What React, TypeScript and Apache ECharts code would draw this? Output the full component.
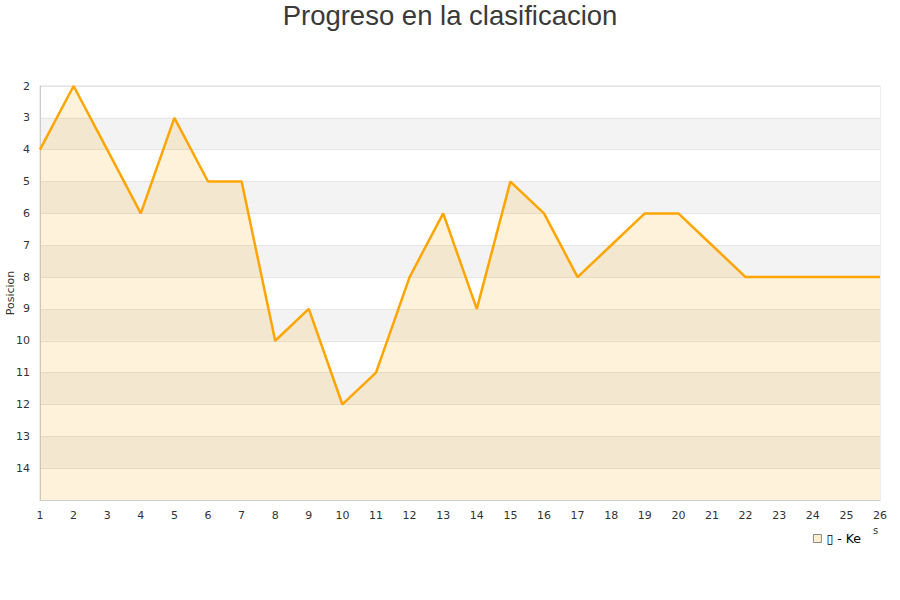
import { useEffect, useRef } from "react";
import * as echarts from "echarts";

const jornadas = ["1", "2", "3", "4", "5", "6", "7", "8", "9", "10", "11", "12", "13", "14", "15", "16", "17", "18", "19", "20", "21", "22", "23", "24", "25", "26"];
const posiciones = [4, 2, 4, 6, 3, 5, 5, 10, 9, 12, 11, 8, 6, 9, 5, 6, 8, 7, 6, 6, 7, 8, 8, 8, 8, 8];
const equipo = "\u25AF - Ke";

export default function App() {
  const chartRef = useRef<HTMLDivElement>(null);

  useEffect(() => {
    document.body.style.margin = "0";
    if (!chartRef.current) return;
    const chart = echarts.init(chartRef.current, undefined, { renderer: "svg" });

    const option: echarts.EChartsOption = {
      animation: false,
      title: {
        text: "Progreso en la clasificacion",
        left: "center",
        top: -4,
        textStyle: {
          fontFamily: "Liberation Sans",
          fontSize: 27.5,
          fontWeight: "normal",
          color: "#3a3a3a",
        },
      },
      legend: {
        right: 34,
        top: 527,
        itemWidth: 8,
        itemHeight: 8,
        itemGap: 6,
        icon: "rect",
        textStyle: { fontFamily: "DejaVu Sans", fontSize: 12.5, color: "#000" },
        data: [
          {
            name: equipo,
            itemStyle: { color: "#FFEDCC", borderColor: "#888", borderWidth: 1 },
          },
        ],
      },
      graphic: [
        {
          type: "text",
          left: 873,
          top: 525,
          style: { text: "s", fontFamily: "DejaVu Sans", fontSize: 10, fill: "#333" },
        },
      ],
      grid: {
        left: 40,
        right: 20,
        top: 86,
        bottom: 100,
        outerBoundsMode: "none",
        containLabel: false,
        show: true,
        borderColor: "#ddd",
        borderWidth: 1,
        backgroundColor: "transparent",
      } as any,
      xAxis: {
        type: "category",
        data: jornadas,
        boundaryGap: false,
        axisLine: { lineStyle: { color: "#ccc" } },
        axisTick: { show: false },
        axisLabel: { fontFamily: "DejaVu Sans", fontSize: 11, color: "#333", margin: 10 },
        splitLine: { show: false },
      },
      yAxis: {
        type: "value",
        inverse: true,
        min: 2,
        max: 15,
        interval: 1,
        name: "Posicion",
        nameLocation: "middle",
        nameGap: 24,
        nameMoveOverlap: false,
        nameTextStyle: { fontFamily: "DejaVu Sans", fontSize: 11, color: "#333" },
        axisLine: { show: true, lineStyle: { color: "#ccc" } },
        axisTick: { show: false },
        axisLabel: {
          fontFamily: "DejaVu Sans",
          fontSize: 11,
          color: "#333",
          margin: 10,
          formatter: (v: number) => (v === 15 ? "" : String(v)),
        },
        splitLine: { show: true, lineStyle: { color: "#e4e4e4" } },
        splitArea: { show: true, areaStyle: { color: ["#ffffff", "#f3f3f3"] } },
      } as any,
      series: [
        {
          name: equipo,
          type: "line",
          data: posiciones,
          showSymbol: false,
          symbol: "none",
          lineStyle: { color: "#FFA500", width: 2.5 },
          itemStyle: { color: "#FFEDCC" },
          areaStyle: { color: "rgba(255,165,0,0.2)", origin: "end" },
        },
      ],
    };

    chart.setOption(option);
    return () => chart.dispose();
  }, []);

  return <div ref={chartRef} style={{ width: 900, height: 600 }} />;
}
